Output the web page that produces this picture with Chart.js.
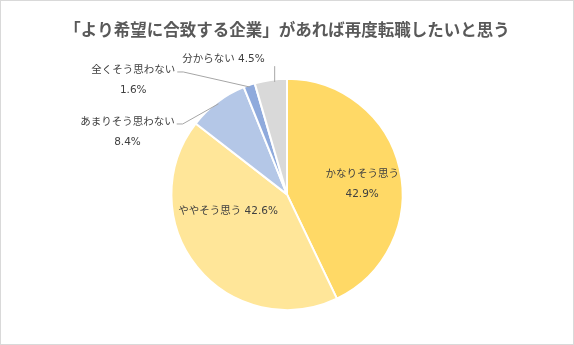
<!DOCTYPE html>
<html>
<head>
<meta charset="utf-8">
<script src="https://cdn.jsdelivr.net/npm/chart.js@4"></script>
<style>
  html, body { margin: 0; padding: 0; background: #fff; }
  #wrap { width: 572px; height: 343px; border: 1px solid #d9d9d9; }
</style>
</head>
<body>
<div id="wrap"><canvas id="pie" width="572" height="343"></canvas></div>
<script>
/* ================= DATA ================= */
const TITLE = "「より希望に合致する企業」があれば再度転職したいと思う";
const categories = ["かなりそう思う", "ややそう思う", "あまりそう思わない", "全くそう思わない", "分からない"];
const shares = [42.9, 42.6, 8.4, 1.6, 4.5];
const sliceColors = ["#FFD966", "#FFE699", "#B4C7E7", "#8FAADC", "#D9D9D9"];

/* label placement, in units of the pie radius from its centre */
const labelSpots = [
    { dx: 0.65, dy: -0.09, lines: 2 },
    { dx: -0.51, dy: 0.15, lines: 1 },
    { dx: -1.38, dy: -0.54, lines: 2, leader: "left" },
    { dx: -1.33, dy: -0.99, lines: 2, leader: "left" },
    { dx: -0.55, dy: -1.17, lines: 1, leader: "up" }
];

const LABEL_FONT = "10.5px 'DejaVu Sans', 'Noto Sans CJK JP', sans-serif";

/* ================= LABEL PLUGIN ================= */
const pieLabels = {
    id: "pieLabels",
    afterDatasetsDraw(chart) {
        const ctx = chart.ctx;
        const meta = chart.getDatasetMeta(0);
        ctx.save();
        ctx.font = LABEL_FONT;
        ctx.fillStyle = "#404040";
        ctx.strokeStyle = "#a6a6a6";
        ctx.lineWidth = 1;
        ctx.textAlign = "center";
        ctx.textBaseline = "middle";

        meta.data.forEach((arc, i) => {
            const p = arc.getProps(["x", "y", "startAngle", "endAngle", "outerRadius"], true);
            const R = p.outerRadius;
            const spot = labelSpots[i];
            const lx = p.x + spot.dx * R;
            const ly = p.y + spot.dy * R;
            const pct = shares[i].toFixed(1) + "%";

            if (spot.lines === 2) {
                ctx.fillText(categories[i], lx, ly - 10);
                ctx.fillText(pct, lx, ly + 10);
            } else {
                ctx.fillText(categories[i] + " " + pct, lx, ly);
            }

            if (spot.leader) {
                const mid = (p.startAngle + p.endAngle) / 2;
                const ax = p.x + Math.cos(mid) * (R - 2);
                const ay = p.y + Math.sin(mid) * (R - 2);
                ctx.beginPath();
                if (spot.leader === "left") {
                    const w = ctx.measureText(categories[i]).width;
                    const sx = lx + w / 2 + 2;
                    const sy = ly - 8;
                    ctx.moveTo(sx, sy);
                    ctx.lineTo(sx + 6, sy);
                    ctx.lineTo(ax, ay);
                } else {
                    const w = ctx.measureText(categories[i] + " " + pct).width;
                    const sx = lx + w / 2 + 10;
                    ctx.moveTo(sx, ly + 7);
                    ctx.lineTo(sx, ay);
                }
                ctx.stroke();
            }
        });
        ctx.restore();
    }
};

/* ================= CHART ================= */
new Chart(document.getElementById("pie"), {
    type: "pie",
    data: {
        labels: categories,
        datasets: [{
            data: shares,
            backgroundColor: sliceColors,
            borderColor: "#ffffff",
            borderWidth: 2
        }]
    },
    options: {
        responsive: false,
        animation: false,
        layout: { padding: { top: 0, bottom: 33, left: 0, right: 0 } },
        plugins: {
            legend: { display: false },
            tooltip: { enabled: false },
            title: {
                display: true,
                text: TITLE,
                color: "#595959",
                font: { family: "'Noto Sans CJK JP', sans-serif", size: 16.5, weight: "bold" },
                padding: { top: 19, bottom: 38 }
            }
        }
    },
    plugins: [pieLabels]
});
</script>
</body>
</html>
